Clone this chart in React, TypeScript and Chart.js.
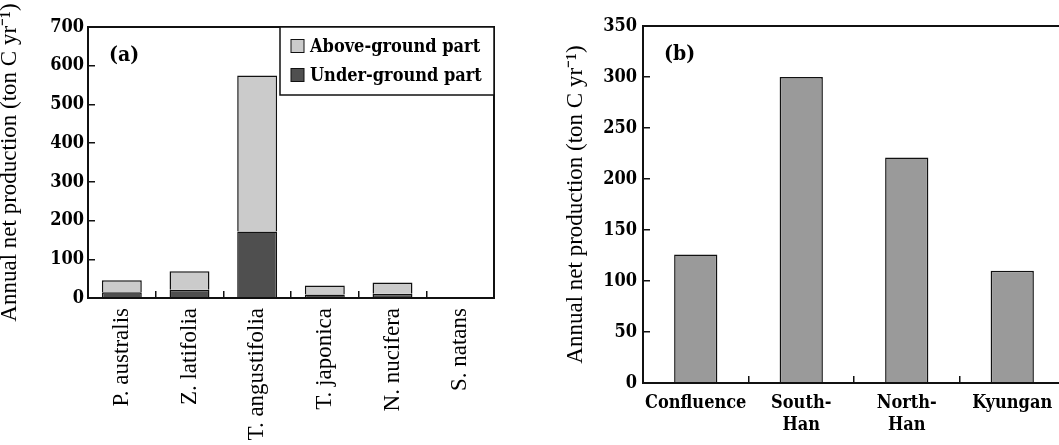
import { useEffect, useRef } from 'react';
import { Chart, registerables } from 'chart.js';

Chart.register(...registerables);

// ---- Data: panel (a) ----
const speciesLabels = ['P. australis', 'Z. latifolia', 'T. angustifolia', 'T. japonica', 'N. nucifera', 'S. natans'];
const underGroundPart = [15, 21, 172, 9, 11, 0];
const aboveGroundPart = [31, 48, 403, 23, 29, 0];
const yMaxA = 700;
const yStepA = 100;

// ---- Data: panel (b) ----
const regionLabels = [['Confluence'], ['South-', 'Han'], ['North-', 'Han'], ['Kyungan']];
const regionProduction = [126, 300, 221, 110];
const yMaxB = 350;
const yStepB = 50;

const yTitle = 'Annual net production (ton C yr\u207B\u00B9)';
const seriesNames = ['Under-ground part', 'Above-ground part'];

const SERIF = '"DejaVu Serif Condensed", "DejaVu Serif", serif';
const TIMES = '"Liberation Serif", serif';
const INK = '#111';

const framePlugin = {
  id: 'frame',
  afterDraw(chart: any, _args: any, opts: any) {
    const { ctx, chartArea } = chart;
    const { left, top, right, bottom } = chartArea;
    ctx.save();
    ctx.strokeStyle = INK;
    ctx.lineWidth = 2;
    ctx.strokeRect(left, top, right - left, bottom - top);
    if (opts && opts.letter) {
      ctx.font = 'bold 21px ' + SERIF;
      ctx.fillStyle = '#000';
      ctx.textAlign = 'left';
      ctx.textBaseline = 'middle';
      ctx.fillText(opts.letter, left + 21, top + 29);
    }
    ctx.restore();
  },
};

const boxLegendPlugin = {
  id: 'boxLegend',
  afterDraw(chart: any, _args: any, opts: any) {
    if (!opts || !opts.show) return;
    const { ctx, chartArea } = chart;
    const items = chart.data.datasets.slice().reverse();
    const w = 214;
    const h = 68;
    const x = chartArea.right - w;
    const y = chartArea.top;
    ctx.save();
    ctx.fillStyle = '#fff';
    ctx.fillRect(x, y, w, h);
    ctx.strokeStyle = INK;
    ctx.lineWidth = 1.5;
    ctx.strokeRect(x, y, w, h);
    ctx.font = 'bold 18px ' + SERIF;
    ctx.textAlign = 'left';
    ctx.textBaseline = 'middle';
    items.forEach((ds: any, i: number) => {
      const cy = y + 19 + i * 29;
      ctx.fillStyle = ds.backgroundColor;
      ctx.fillRect(x + 11, cy - 6.5, 13, 13);
      ctx.strokeStyle = INK;
      ctx.lineWidth = 1;
      ctx.strokeRect(x + 11, cy - 6.5, 13, 13);
      ctx.fillStyle = '#000';
      ctx.fillText(ds.label, x + 30, cy + 1);
    });
    ctx.restore();
  },
};

function tickGrid() {
  return {
    display: true,
    drawOnChartArea: false,
    drawTicks: true,
    tickLength: -7,
    color: INK,
    lineWidth: 1.5,
  };
}

const boldFont = { family: SERIF, size: 18, weight: 'bold' as const, lineHeight: 1.2 };

export default function App() {
  const refA = useRef<HTMLCanvasElement | null>(null);
  const refB = useRef<HTMLCanvasElement | null>(null);

  useEffect(() => {
    const chartA = new Chart(refA.current as HTMLCanvasElement, {
      type: 'bar',
      data: {
        labels: speciesLabels,
        datasets: [
          {
            label: seriesNames[0],
            data: underGroundPart,
            backgroundColor: '#4f4f4f',
            borderColor: INK,
            borderWidth: 1.5,
            barPercentage: 0.59,
            categoryPercentage: 1,
          },
          {
            label: seriesNames[1],
            data: aboveGroundPart,
            backgroundColor: '#cbcbcb',
            borderColor: INK,
            borderWidth: 1.5,
            barPercentage: 0.59,
            categoryPercentage: 1,
          },
        ],
      },
      options: {
        responsive: false,
        animation: false,
        layout: { padding: { left: 0, top: 27, right: 26, bottom: 0 } },
        plugins: {
          legend: { display: false },
          tooltip: { enabled: false },
          frame: { letter: '(a)' },
          boxLegend: { show: true },
        } as any,
        scales: {
          x: {
            stacked: true,
            grid: { ...tickGrid(), offset: true },
            border: { display: false },
            ticks: {
              autoSkip: false,
              minRotation: 90,
              maxRotation: 90,
              padding: 17,
              color: '#000',
              font: { family: TIMES, size: 23 },
            },
            afterFit: (s: any) => {
              s.height = 147;
            },
          },
          y: {
            stacked: true,
            min: 0,
            max: yMaxA,
            grid: tickGrid(),
            border: { display: false },
            ticks: {
              stepSize: yStepA,
              padding: 11,
              color: '#000',
              font: boldFont,
            },
            title: {
              display: true,
              text: yTitle,
              color: '#000',
              font: { family: TIMES, size: 23, lineHeight: 0.85 },
              padding: { top: 0, bottom: 0 },
            },
            afterFit: (s: any) => {
              s.width = 88;
            },
          },
        },
      } as any,
      plugins: [framePlugin, boxLegendPlugin],
    });

    const chartB = new Chart(refB.current as HTMLCanvasElement, {
      type: 'bar',
      data: {
        labels: regionLabels,
        datasets: [
          {
            label: 'Annual net production',
            data: regionProduction,
            backgroundColor: '#9a9a9a',
            borderColor: INK,
            borderWidth: 1.5,
            barPercentage: 0.41,
            categoryPercentage: 1,
          },
        ],
      },
      options: {
        responsive: false,
        animation: false,
        layout: { padding: { left: 34, top: 26, right: 10, bottom: 0 } },
        plugins: {
          legend: { display: false },
          tooltip: { enabled: false },
          frame: { letter: '(b)' },
          boxLegend: { show: false },
        } as any,
        scales: {
          x: {
            grid: { ...tickGrid(), offset: true },
            border: { display: false },
            ticks: {
              autoSkip: false,
              maxRotation: 0,
              minRotation: 0,
              padding: 17,
              color: '#000',
              font: boldFont,
            },
            afterFit: (s: any) => {
              s.height = 62;
            },
          },
          y: {
            min: 0,
            max: yMaxB,
            grid: tickGrid(),
            border: { display: false },
            ticks: {
              stepSize: yStepB,
              padding: 13,
              color: '#000',
              font: boldFont,
            },
            title: {
              display: true,
              text: yTitle,
              color: '#000',
              font: { family: TIMES, size: 23, lineHeight: 1 },
              padding: { top: 0, bottom: 0 },
            },
            afterFit: (s: any) => {
              s.width = 79;
            },
          },
        },
      } as any,
      plugins: [framePlugin, boxLegendPlugin],
    });

    return () => {
      chartA.destroy();
      chartB.destroy();
    };
  }, []);

  return (
    <div
      style={{
        position: 'fixed',
        left: 0,
        top: 0,
        width: 1059,
        height: 445,
        overflow: 'hidden',
        background: '#fff',
      }}
    >
      <div style={{ position: 'absolute', left: 0, top: 0, width: 520, height: 445 }}>
        <canvas ref={refA} width={520} height={445} style={{ display: 'block' }} />
      </div>
      <div style={{ position: 'absolute', left: 530, top: 0, width: 545, height: 445 }}>
        <canvas ref={refB} width={545} height={445} style={{ display: 'block' }} />
      </div>
    </div>
  );
}
